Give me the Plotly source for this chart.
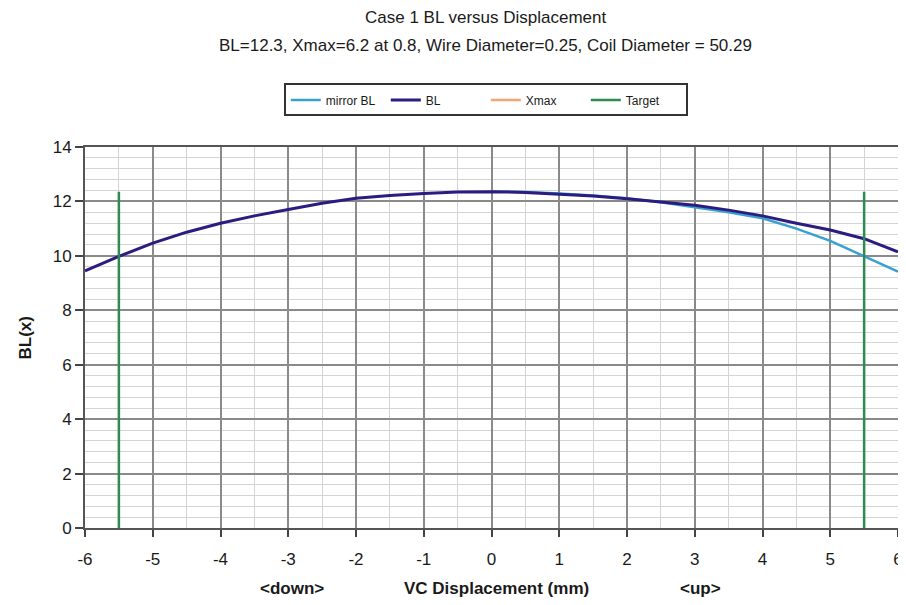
import plotly.graph_objects as go

# Data
x_bl = [-6, -5.5, -5, -4.5, -4, -3.5, -3, -2.5, -2, -1.5, -1, -0.5, 0,
        0.5, 1, 1.5, 2, 2.5, 3, 3.5, 4, 4.5, 5, 5.5, 6]
y_bl = [9.45, 9.98, 10.47, 10.87, 11.2, 11.47, 11.7, 11.93, 12.12, 12.22, 12.29, 12.35, 12.36,
        12.33, 12.26, 12.2, 12.1, 11.99, 11.86, 11.68, 11.47, 11.2, 10.95, 10.63, 10.15]
x_mirror = [0, 0.5, 1, 1.5, 2, 2.5, 3, 3.5, 4, 4.5, 5, 5.5, 6]
y_mirror = [12.36, 12.35, 12.29, 12.22, 12.12, 11.97, 11.79, 11.6, 11.38, 11.0, 10.55, 10.0, 9.42]
x_xmax = [None]
y_xmax = [None]
x_target = [-5.5, -5.5, None, 5.5, 5.5]
y_target = [0, 12.36, None, 0, 12.36]

x_tickvals = [-6, -5, -4, -3, -2, -1, 0, 1, 2, 3, 4, 5, 6]
x_ticktext = ["-6", "-5", "-4", "-3", "-2", "-1", "0", "1", "2", "3", "4", "5", "6"]

title_line1 = "Case 1 BL versus Displacement"
title_line2 = "BL=12.3, Xmax=6.2 at 0.8, Wire Diameter=0.25, Coil Diameter = 50.29"
x_title = "VC Displacement (mm)"
y_title = "BL(x)"
down_label = "<down>"
up_label = "<up>"
down_pos = -2.94
up_pos = 3.09
title_pos = 0.08

FONT = "Liberation Sans, Arial, sans-serif"
TXT = "#1a1a1a"

fig = go.Figure()
fig.add_trace(go.Scatter(x=x_mirror, y=y_mirror, mode="lines", name="mirror BL",
                         line=dict(color="#3AA0D2", width=2.5)))
fig.add_trace(go.Scatter(x=x_bl, y=y_bl, mode="lines", name="BL",
                         line=dict(color="#2B1C80", width=3)))
fig.add_trace(go.Scatter(x=x_xmax, y=y_xmax, mode="lines", name="Xmax",
                         line=dict(color="#EFA574", width=2.5)))
fig.add_trace(go.Scatter(x=x_target, y=y_target, mode="lines", name="Target",
                         line=dict(color="#2E8B50", width=2.5)))

fig.update_layout(
    width=898, height=589,
    paper_bgcolor="white", plot_bgcolor="white",
    margin=dict(l=77, r=8, t=139, b=69),
    font=dict(family=FONT, size=17, color=TXT),
    showlegend=True,
    legend=dict(orientation="h", x=0.493, xanchor="center", y=1.1234, yanchor="middle",
                bordercolor="#333", borderwidth=2, font=dict(size=12, family=FONT, color=TXT),
                entrywidth=55, entrywidthmode="pixels", itemwidth=30, tracegroupgap=0),
    xaxis=dict(range=[-6, 6], tickvals=x_tickvals, ticktext=x_ticktext,
               showgrid=True, gridcolor="#8a8a8a", gridwidth=1.5,
               minor=dict(dtick=0.5, tick0=0, showgrid=True, gridcolor="#d4d4d4", gridwidth=1),
               ticks="outside", ticklen=7, tickcolor="#444", tickwidth=1.5,
               showline=True, linecolor="#555", linewidth=2, mirror=True, zeroline=False,
               tickfont=dict(size=17, family=FONT, color=TXT), ticklabelstandoff=8,
               ticklabeloverflow="allow", automargin=False),
    yaxis=dict(range=[0, 14], dtick=2, showgrid=True, gridcolor="#8a8a8a", gridwidth=1.5,
               minor=dict(dtick=0.4, showgrid=True, gridcolor="#d4d4d4", gridwidth=1),
               ticks="outside", ticklen=8, tickcolor="#444", tickwidth=1.5,
               showline=True, linecolor="#555", linewidth=2, mirror=True, zeroline=False,
               tickfont=dict(size=17, family=FONT, color=TXT), ticklabelstandoff=0,
               automargin=False),
)

fig.add_annotation(text=title_line1, x=0.493, xref="paper", y=1.3386, yref="paper",
                   showarrow=False, font=dict(size=17, family=FONT, color=TXT),
                   xanchor="center", yanchor="middle")
fig.add_annotation(text=title_line2, x=0.493, xref="paper", y=1.2677, yref="paper",
                   showarrow=False, font=dict(size=17, family=FONT, color=TXT),
                   xanchor="center", yanchor="middle")
fig.add_annotation(text="<b>" + y_title + "</b>", x=-0.0726, xref="paper", y=0.5, yref="paper",
                   showarrow=False, textangle=-90, font=dict(size=17, family=FONT, color=TXT),
                   xanchor="center", yanchor="middle")
for lbl, pos in [(down_label, down_pos), (x_title, title_pos), (up_label, up_pos)]:
    fig.add_annotation(text="<b>" + lbl.replace("<", "&lt;").replace(">", "&gt;") + "</b>",
                       x=pos, xref="x", y=-0.160, yref="paper", showarrow=False,
                       font=dict(size=17, family=FONT, color=TXT),
                       xanchor="center", yanchor="middle")

fig.write_html("out.html")
